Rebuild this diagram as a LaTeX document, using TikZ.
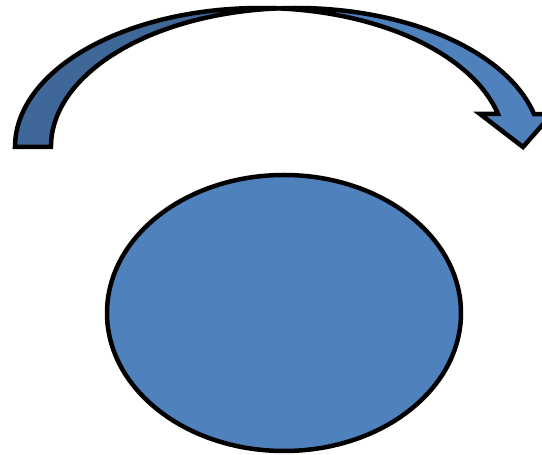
\documentclass[tikz,border=0pt]{standalone}
\definecolor{accent}{HTML}{4F81BD}
\definecolor{accentdark}{HTML}{3F6797}
\begin{document}
\begin{tikzpicture}[x=1pt,y=1pt,
  shapeline/.style={line width=4.5pt, draw=black, line join=miter},
  ell/.style={x radius=245pt, y radius=139pt}]
\useasboundingbox (0,0) rectangle (542,455);
\clip (0,0) rectangle (542,455);
% key points of the curved arrow
\coordinate (footout) at (15,308);
\coordinate (cross) at (278,446.62);
\coordinate (barbR) at (552,341);
\coordinate (tip) at (523,308);
\coordinate (barbL) at (480,341);
\coordinate (shaftin) at (498,341);
% back (darker) lobe of the arrow
\filldraw[shapeline, fill=accentdark] (footout)
  arc[ell, start angle=180, end angle=85.79]
  arc[ell, start angle=94.21, end angle=180] -- cycle;
% front lobe with arrow head
\filldraw[shapeline, fill=accent] (cross)
  arc[ell, start angle=94.21, end angle=13.73]
  -- (barbR) -- (tip) -- (barbL) -- (shaftin)
  arc[ell, start angle=13.73, end angle=85.79] -- cycle;
% ellipse
\filldraw[shapeline, fill=accent] (284,142) ellipse[x radius=177pt, y radius=138pt];
\end{tikzpicture}
\end{document}
